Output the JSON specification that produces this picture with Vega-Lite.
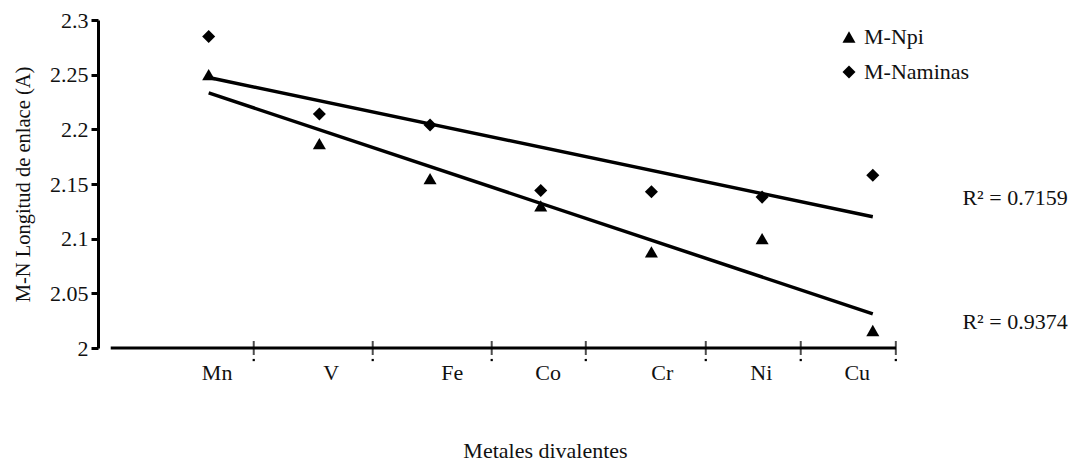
{
  "$schema": "https://vega.github.io/schema/vega-lite/v6.json",
  "width": 808,
  "height": 328,
  "autosize": {"type": "none"},
  "padding": {"left": 98, "top": 20, "right": 164, "bottom": 117},
  "background": "white",
  "config": {
    "view": {"stroke": null},
    "font": "Liberation Serif",
    "axis": {"labelFont": "Liberation Serif", "titleFont": "Liberation Serif", "labelColor": "#111", "titleColor": "#111", "grid": false, "labelFontSize": 22},
    "legend": {"labelFont": "Liberation Serif"},
    "text": {"font": "Liberation Serif"}
  },
  "datasets": {
    "main": [
      {"metal": "Mn", "x": 1, "y": 2.25, "series": "M-Npi"},
      {"metal": "V", "x": 2, "y": 2.187, "series": "M-Npi"},
      {"metal": "Fe", "x": 3, "y": 2.155, "series": "M-Npi"},
      {"metal": "Co", "x": 4, "y": 2.13, "series": "M-Npi"},
      {"metal": "Cr", "x": 5, "y": 2.088, "series": "M-Npi"},
      {"metal": "Ni", "x": 6, "y": 2.1, "series": "M-Npi"},
      {"metal": "Cu", "x": 7, "y": 2.016, "series": "M-Npi"},
      {"metal": "Mn", "x": 1, "y": 2.285, "series": "M-Naminas"},
      {"metal": "V", "x": 2, "y": 2.214, "series": "M-Naminas"},
      {"metal": "Fe", "x": 3, "y": 2.204, "series": "M-Naminas"},
      {"metal": "Co", "x": 4, "y": 2.144, "series": "M-Naminas"},
      {"metal": "Cr", "x": 5, "y": 2.143, "series": "M-Naminas"},
      {"metal": "Ni", "x": 6, "y": 2.138, "series": "M-Naminas"},
      {"metal": "Cu", "x": 7, "y": 2.158, "series": "M-Naminas"}
    ],
    "axisline": [{"x": 0.115, "x2": 7.21, "y": 2}],
    "ticks": [
      {"x": 1.407, "y": 2}, {"x": 2.482, "y": 2}, {"x": 3.557, "y": 2}, {"x": 4.407, "y": 2},
      {"x": 5.491, "y": 2}, {"x": 6.349, "y": 2}, {"x": 7.208, "y": 2}
    ],
    "dots": [
      {"x": 1.407, "y": 1.989}, {"x": 2.482, "y": 1.989}, {"x": 3.557, "y": 1.989}, {"x": 4.407, "y": 1.989},
      {"x": 5.491, "y": 1.989}, {"x": 6.349, "y": 1.989}, {"x": 7.208, "y": 1.989}
    ],
    "r2": [
      {"x": 7.81, "y": 2.1371, "label": "R² = 0.7159"},
      {"x": 7.81, "y": 2.0237, "label": "R² = 0.9374"}
    ]
  },
  "encoding": {
    "x": {
      "field": "x", "type": "quantitative",
      "scale": {"domain": [0, 7.3], "nice": false, "zero": false},
      "axis": {
        "title": "Metales divalentes",
        "titleFontSize": 22, "titleFontWeight": "normal",
        "titleX": 447, "titleY": 109, "titleBaseline": "alphabetic",
        "values": [1.072, 2.102, 3.196, 4.063, 5.093, 5.988, 6.855],
        "labelExpr": "['','Mn','V','Fe','Co','Cr','Ni','Cu'][round(datum.value)]",
        "labelFontSize": 22, "labelPadding": 14,
        "ticks": false, "domain": false
      }
    },
    "y": {
      "field": "y", "type": "quantitative",
      "scale": {"domain": [2, 2.3], "nice": false, "zero": false},
      "axis": {
        "title": "M-N Longitud de enlace (A)",
        "titleFontSize": 20.5, "titleFontWeight": "normal", "titlePadding": 16,
        "values": [2, 2.05, 2.1, 2.15, 2.2, 2.25, 2.3],
        "format": "~g",
        "labelFontSize": 22, "labelPadding": 3,
        "domainColor": "black", "domainWidth": 3,
        "tickColor": "black", "tickWidth": 3, "tickSize": 7
      }
    }
  },
  "layer": [
    {
      "data": {"name": "axisline"},
      "mark": {"type": "rule", "color": "black", "strokeWidth": 3},
      "encoding": {"x2": {"field": "x2"}}
    },
    {
      "data": {"name": "ticks"},
      "mark": {"type": "tick", "orient": "vertical", "color": "black", "thickness": 2, "size": 14}
    },
    {
      "data": {"name": "dots"},
      "mark": {"type": "square", "color": "black", "size": 5, "opacity": 1, "clip": false}
    },
    {
      "data": {"name": "main"},
      "transform": [{"regression": "y", "on": "x", "groupby": ["series"]}],
      "mark": {"type": "line", "color": "black", "strokeWidth": 3.5},
      "encoding": {"detail": {"field": "series"}}
    },
    {
      "data": {"name": "main"},
      "mark": {"type": "point", "filled": true, "color": "black", "opacity": 1, "size": 170},
      "encoding": {
        "shape": {
          "field": "series", "type": "nominal",
          "scale": {"domain": ["M-Npi", "M-Naminas"], "range": ["triangle-up", "diamond"]},
          "legend": {
            "title": null, "orient": "none", "legendX": 740, "legendY": 6,
            "labelFontSize": 22, "labelColor": "#111", "symbolSize": 170,
            "symbolFillColor": "black", "symbolStrokeColor": "black",
            "rowPadding": 13, "labelOffset": 4
          }
        }
      }
    },
    {
      "data": {"name": "r2"},
      "mark": {"type": "text", "align": "left", "baseline": "middle", "fontSize": 22, "color": "#111"},
      "encoding": {"text": {"field": "label"}}
    }
  ]
}
